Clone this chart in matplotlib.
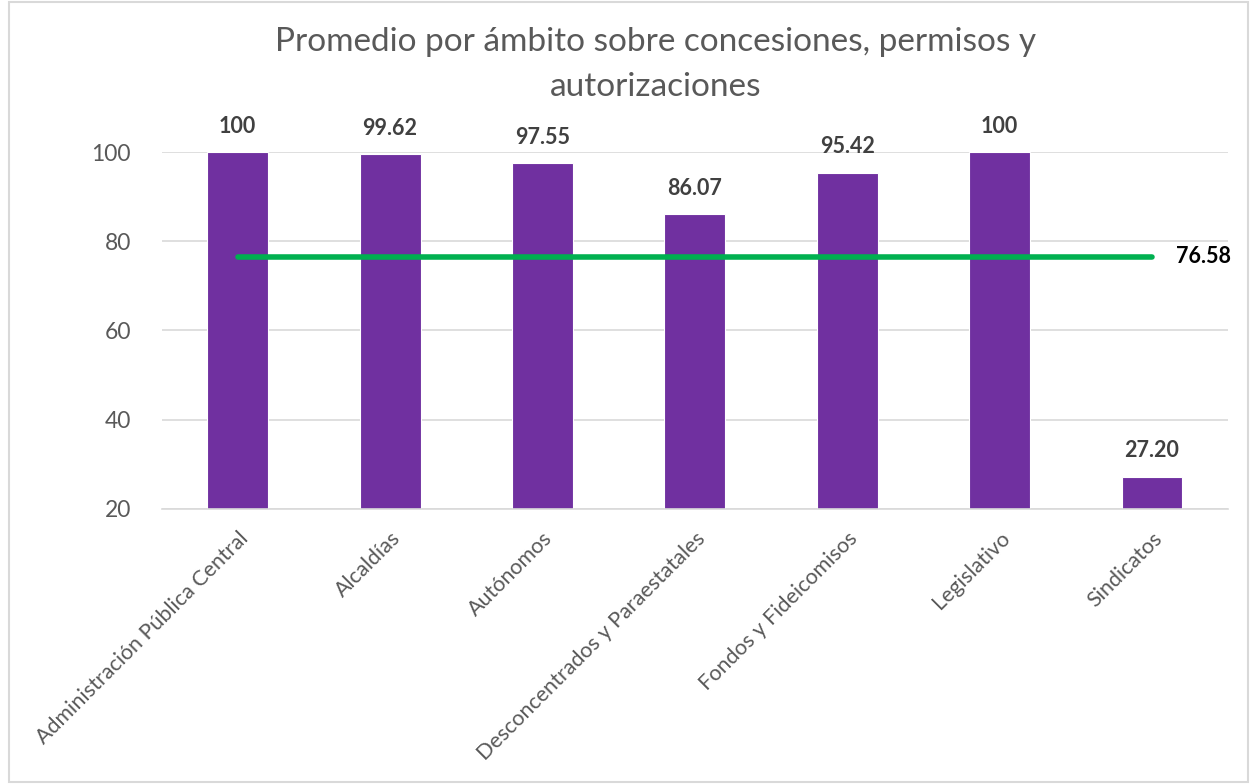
import matplotlib
matplotlib.use("Agg")
import matplotlib.pyplot as plt
from matplotlib.patches import Rectangle

plt.rcParams["font.family"] = ["Lato", "DejaVu Sans"]

categories = ["Administración Pública Central", "Alcaldías", "Autónomos",
              "Desconcentrados y Paraestatales", "Fondos y Fideicomisos",
              "Legislativo", "Sindicatos"]
values = [100, 99.62, 97.55, 86.07, 95.42, 100, 27.20]
value_labels = ["100", "99.62", "97.55", "86.07", "95.42", "100", "27.20"]
average = 76.58

fig = plt.figure(figsize=(12.52, 7.84), dpi=100)
ax = fig.add_axes([0.129, 0.351, 0.852, 0.455])

x = list(range(len(categories)))
ax.bar(x, [v - 20 for v in values], bottom=20, width=0.4, color="#7030A0",
       edgecolor="white", linewidth=0.8, zorder=2)

for xi, v, lab in zip(x, values, value_labels):
    ax.annotate(lab, (xi, v), xytext=(0, 11), textcoords="offset points",
                ha="center", va="bottom", fontsize=15.5, fontweight="bold",
                color="#404040")

ax.plot([x[0], x[-1]], [average, average], color="#00B050", linewidth=4,
        solid_capstyle="round", zorder=3)
ax.annotate(f"{average:.2f}", (x[-1], average), xytext=(17, 0),
            textcoords="offset points", ha="left", va="center",
            fontsize=15.5, fontweight="bold", color="black")

ax.set_xlim(-0.5, len(categories) - 0.5)
ax.set_ylim(20, 100)
ax.set_yticks([20, 40, 60, 80, 100])
ax.yaxis.grid(True, color="#D9D9D9", linewidth=1.2, zorder=0)
ax.set_axisbelow(True)
for s in ["top", "right", "left"]:
    ax.spines[s].set_visible(False)
ax.spines["bottom"].set_color("#D9D9D9")
ax.spines["bottom"].set_linewidth(1.2)
ax.tick_params(axis="both", length=0, labelcolor="#595959")
ax.tick_params(axis="y", pad=22, labelsize=16.5)
ax.set_xticks(x)
ax.set_xticklabels(categories, rotation=45, ha="right", rotation_mode="anchor")
ax.tick_params(axis="x", pad=14, labelsize=15.5)

fig.text(0.524, 0.965, "Promedio por ámbito sobre concesiones, permisos y\nautorizaciones",
         ha="center", va="top", fontsize=24, color="#595959", linespacing=1.6)

fig.patches.append(Rectangle((0.007, 0.003), 0.99, 0.994, transform=fig.transFigure,
                             fill=False, edgecolor="#D9D9D9", linewidth=1.5))

fig.savefig("out.png", dpi=100)
